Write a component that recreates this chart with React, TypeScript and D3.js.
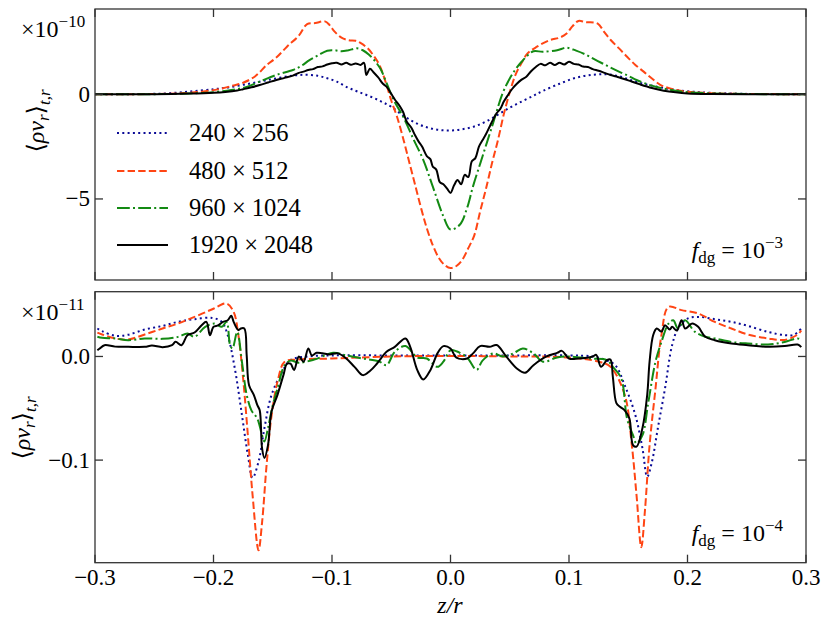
import React, { FC, useMemo } from "react";
import * as d3 from "d3";

// x axis (shared)
const xTicks = [-0.3, -0.2, -0.1, 0, 0.1, 0.2, 0.3];
const xTickLabels = ["−0.3", "−0.2", "−0.1", "0.0", "0.1", "0.2", "0.3"];

const topYTicks = [-5, 0];
const topYTickLabels = ["−5", "0"];
const botYTicks = [-0.1, 0];
const botYTickLabels = ["−0.1", "0.0"];

const seriesNames = ["240 × 256", "480 × 512", "960 × 1024", "1920 × 2048"];
const seriesColors = ["#0a0a96", "#ff4514", "#138a13", "#000000"];
const seriesDash = ["2,3.3", "7.4,3.2", "12.8,3.2,2,3.2", "none"];

// f_dg = 1e-3, values in units of 1e-10
const top240 = [
  [-0.3, 0], [-0.26, 0.01], [-0.24, 0.04], [-0.22, 0.13], [-0.2, 0.24], [-0.189, 0.31],
  [-0.175, 0.45], [-0.161, 0.6], [-0.147, 0.76], [-0.133, 0.89], [-0.122, 0.93],
  [-0.112, 0.88], [-0.104, 0.76], [-0.096, 0.6], [-0.087, 0.33], [-0.078, 0.12],
  [-0.068, -0.1], [-0.058, -0.36], [-0.05, -0.6], [-0.04, -1.02], [-0.03, -1.35],
  [-0.02, -1.58], [-0.01, -1.7], [0, -1.73], [0.01, -1.67], [0.02, -1.54], [0.03, -1.3],
  [0.04, -0.98], [0.05, -0.64], [0.06, -0.35], [0.07, -0.07], [0.078, 0.16], [0.092, 0.5],
  [0.106, 0.79], [0.12, 0.93], [0.132, 0.95], [0.142, 0.86], [0.152, 0.68], [0.163, 0.5],
  [0.177, 0.33], [0.191, 0.2], [0.205, 0.12], [0.219, 0.07], [0.24, 0.03], [0.26, 0.01], [0.3, 0],
];
const top480 = [
  [-0.3, 0], [-0.25, 0.01], [-0.23, 0.04], [-0.21, 0.12], [-0.195, 0.25], [-0.183, 0.42],
  [-0.175, 0.55], [-0.165, 0.85], [-0.155, 1.4], [-0.147, 1.75], [-0.138, 2.27],
  [-0.128, 2.8], [-0.121, 3.35], [-0.114, 3.4], [-0.106, 3.48], [-0.102, 3.3],
  [-0.098, 3.0], [-0.092, 2.7], [-0.086, 2.58], [-0.08, 2.55], [-0.076, 2.45],
  [-0.07, 2.2], [-0.065, 1.85], [-0.06, 1.4], [-0.054, 0.45], [-0.05, -0.3],
  [-0.045, -1.1], [-0.04, -2.1], [-0.035, -3.2], [-0.03, -4.3], [-0.025, -5.4],
  [-0.02, -6.4], [-0.015, -7.2], [-0.01, -7.8], [-0.005, -8.15], [0, -8.3], [0.005, -8.2],
  [0.01, -7.9], [0.015, -7.35], [0.02, -6.75], [0.025, -5.6], [0.03, -4.5], [0.035, -3.3],
  [0.04, -2.2], [0.045, -0.95], [0.05, 0.1], [0.055, 0.95], [0.06, 1.5], [0.065, 1.95],
  [0.073, 2.27], [0.084, 2.59], [0.092, 2.7], [0.098, 2.9], [0.103, 3.25], [0.108, 3.5],
  [0.114, 3.44], [0.124, 3.38], [0.13, 2.95], [0.135, 2.6], [0.142, 2.2], [0.149, 1.79],
  [0.156, 1.4], [0.163, 1.08], [0.17, 0.75], [0.177, 0.45], [0.184, 0.3], [0.191, 0.2],
  [0.2, 0.12], [0.22, 0.05], [0.24, 0.02], [0.3, 0],
];
const top960 = [
  [-0.3, 0], [-0.24, 0.01], [-0.22, 0.04], [-0.2, 0.1], [-0.185, 0.2], [-0.172, 0.35],
  [-0.161, 0.6], [-0.147, 0.92], [-0.133, 1.16], [-0.126, 1.35], [-0.119, 1.63],
  [-0.112, 1.85], [-0.104, 2.08], [-0.098, 2.1], [-0.092, 2.05], [-0.086, 2.1],
  [-0.079, 2.19], [-0.074, 2.1], [-0.069, 1.9], [-0.064, 1.6], [-0.059, 1.2],
  [-0.054, 0.54], [-0.048, -0.27], [-0.04, -1.07], [-0.031, -2.18], [-0.023, -3.13],
  [-0.015, -4.4], [-0.006, -5.83], [0, -6.46], [0.008, -6.22], [0.014, -5.43],
  [0.019, -4.4], [0.027, -2.97], [0.036, -1.37], [0.044, 0.05], [0.05, 0.75],
  [0.055, 1.2], [0.06, 1.55], [0.065, 1.85], [0.07, 2.05], [0.078, 2.03], [0.09, 2.1],
  [0.098, 2.22], [0.106, 2.08], [0.115, 1.87], [0.122, 1.65], [0.129, 1.45],
  [0.136, 1.25], [0.143, 1.06], [0.15, 0.88], [0.157, 0.68], [0.165, 0.5], [0.175, 0.33],
  [0.19, 0.17], [0.2, 0.1], [0.22, 0.04], [0.25, 0.01], [0.3, 0],
];
const top1920 = [
  [-0.3, 0], [-0.25, 0], [-0.22, 0.03], [-0.2, 0.07], [-0.19, 0.11], [-0.18, 0.18],
  [-0.175, 0.24], [-0.168, 0.33], [-0.161, 0.44], [-0.154, 0.56], [-0.147, 0.68],
  [-0.14, 0.78], [-0.133, 0.89], [-0.128, 1.02], [-0.124, 1.08], [-0.12, 1.16],
  [-0.116, 1.2], [-0.112, 1.3], [-0.108, 1.33], [-0.104, 1.42], [-0.1, 1.48],
  [-0.096, 1.5], [-0.092, 1.42], [-0.088, 1.5], [-0.084, 1.41], [-0.08, 1.47],
  [-0.076, 1.4], [-0.073, 1.5], [-0.071, 0.92], [-0.068, 1.22], [-0.065, 1.05],
  [-0.061, 0.8], [-0.057, 0.5], [-0.054, 0.36], [-0.05, 0.02], [-0.047, -0.25],
  [-0.043, -0.55], [-0.04, -0.85], [-0.037, -1.3], [-0.033, -1.6], [-0.03, -1.95],
  [-0.027, -2.25], [-0.024, -2.5], [-0.02, -2.95], [-0.017, -3.1], [-0.015, -3.45],
  [-0.012, -3.6], [-0.009, -4.2], [-0.006, -4.3], [-0.003, -4.5], [0, -4.71],
  [0.003, -4.35], [0.006, -4.1], [0.009, -4.3], [0.012, -3.85], [0.015, -3.95],
  [0.018, -3.2], [0.021, -3.05], [0.024, -2.5], [0.027, -2.2], [0.03, -1.9],
  [0.033, -1.55], [0.036, -1.2], [0.039, -0.9], [0.042, -0.7], [0.045, -0.35],
  [0.048, -0.08], [0.052, 0.25], [0.056, 0.5], [0.06, 0.7], [0.064, 0.84], [0.068, 1.1],
  [0.072, 1.3], [0.076, 1.45], [0.08, 1.38], [0.084, 1.5], [0.088, 1.4], [0.092, 1.5],
  [0.096, 1.42], [0.1, 1.55], [0.104, 1.45], [0.108, 1.42], [0.112, 1.32], [0.116, 1.3],
  [0.12, 1.2], [0.125, 1.12], [0.13, 1.02], [0.135, 0.92], [0.14, 0.85], [0.15, 0.66],
  [0.16, 0.47], [0.17, 0.3], [0.18, 0.17], [0.19, 0.09], [0.2, 0.04], [0.22, 0.01],
  [0.25, 0], [0.3, 0],
];

// f_dg = 1e-4, values in units of 1e-11
const bot240 = [
  [-0.298, 0.027], [-0.294, 0.0244], [-0.283, 0.02], [-0.272, 0.021], [-0.258, 0.026],
  [-0.243, 0.0295], [-0.23, 0.0334], [-0.216, 0.036], [-0.201, 0.0372], [-0.193, 0.0334],
  [-0.188, 0.0205], [-0.182, -0.0116], [-0.176, -0.0566], [-0.171, -0.095],
  [-0.167, -0.117], [-0.162, -0.1016], [-0.157, -0.069], [-0.151, -0.037],
  [-0.142, -0.0148], [-0.135, -0.0035], [-0.12, 0], [-0.1, 0.001], [-0.05, 0.001],
  [0, 0.001], [0.05, 0.001], [0.1, 0.001], [0.12, 0], [0.13, -0.003], [0.139, -0.0084],
  [0.147, -0.0277], [0.156, -0.0566], [0.162, -0.0887], [0.166, -0.116], [0.17, -0.1016],
  [0.175, -0.069], [0.181, -0.031], [0.187, 0.0109], [0.192, 0.027], [0.2, 0.0366],
  [0.209, 0.0382], [0.223, 0.036], [0.237, 0.0334], [0.251, 0.0295], [0.268, 0.0237],
  [0.282, 0.0206], [0.29, 0.021], [0.296, 0.027],
];
const bot480 = [
  [-0.298, 0.023], [-0.294, 0.0212], [-0.283, 0.0174], [-0.272, 0.0164], [-0.258, 0.0212],
  [-0.243, 0.027], [-0.23, 0.0318], [-0.216, 0.0382], [-0.201, 0.0456], [-0.189, 0.0511],
  [-0.183, 0.043], [-0.179, 0.0205], [-0.175, -0.0212], [-0.171, -0.076],
  [-0.167, -0.134], [-0.162, -0.187], [-0.159, -0.16], [-0.155, -0.102],
  [-0.151, -0.057], [-0.146, -0.0245], [-0.14, -0.0052], [-0.13, -0.003],
  [-0.1, -0.002], [-0.05, 0], [0, 0.0005], [0.05, 0], [0.1, -0.001], [0.125, -0.005],
  [0.135, -0.01], [0.147, -0.037], [0.153, -0.0855], [0.157, -0.134], [0.161, -0.184],
  [0.164, -0.15], [0.168, -0.0855], [0.173, -0.031], [0.178, 0.0205], [0.184, 0.0478],
  [0.195, 0.0447], [0.209, 0.0415], [0.223, 0.0334], [0.237, 0.027], [0.251, 0.0212],
  [0.268, 0.0174], [0.282, 0.016], [0.293, 0.0212], [0.296, 0.025],
];
const bot960 = [
  [-0.298, 0.019], [-0.294, 0.018], [-0.283, 0.0174], [-0.272, 0.0157], [-0.258, 0.0174],
  [-0.243, 0.017], [-0.23, 0.0189], [-0.222, 0.0222], [-0.216, 0.019], [-0.207, 0.0286],
  [-0.199, 0.0318], [-0.193, 0.0286], [-0.189, 0.0334], [-0.186, 0.011], [-0.184, 0.0077],
  [-0.18, 0.0237], [-0.176, -0.0052], [-0.172, -0.037], [-0.168, -0.052], [-0.163, -0.06],
  [-0.159, -0.076], [-0.157, -0.082], [-0.154, -0.069], [-0.15, -0.047], [-0.146, -0.031],
  [-0.14, -0.0084], [-0.135, -0.004], [-0.128, -0.006], [-0.115, -0.003], [-0.099, 0.0035],
  [-0.088, 0.001], [-0.074, -0.002], [-0.06, -0.005], [-0.054, -0.0084], [-0.047, 0.0045],
  [-0.038, 0.01], [-0.028, -0.001], [-0.02, -0.002], [-0.011, -0.01], [-0.006, -0.005],
  [0, 0.006], [0.005, 0.005], [0.014, -0.001], [0.022, -0.013], [0.027, -0.004],
  [0.036, 0.003], [0.044, 0], [0.053, 0.003], [0.061, 0.0077], [0.07, 0.003],
  [0.078, -0.005], [0.09, -0.001], [0.1, 0], [0.118, -0.002], [0.132, -0.0035],
  [0.137, -0.01], [0.144, -0.021], [0.149, -0.06], [0.154, -0.076], [0.157, -0.084],
  [0.162, -0.076], [0.167, -0.0437], [0.173, -0.005], [0.178, 0.014], [0.184, 0.0318],
  [0.188, 0.035], [0.192, 0.027], [0.198, 0.035], [0.206, 0.024], [0.215, 0.019],
  [0.223, 0.0174], [0.237, 0.014], [0.251, 0.0125], [0.268, 0.0115], [0.282, 0.014],
  [0.293, 0.0174], [0.296, 0.016],
];
const bot1920 = [
  [-0.298, 0.006], [-0.296, 0.0077], [-0.292, 0.0109], [-0.283, 0.0095], [-0.272, 0.0093],
  [-0.258, 0.0093], [-0.252, 0.0105], [-0.243, 0.009], [-0.235, 0.0109], [-0.232, 0.0141],
  [-0.227, 0.0109], [-0.222, 0.0205], [-0.216, 0.0231], [-0.21, 0.0302], [-0.206, 0.0334],
  [-0.203, 0.0205], [-0.2, 0.0286], [-0.196, 0.03], [-0.192, 0.0334], [-0.188, 0.035],
  [-0.185, 0.0392], [-0.183, 0.0334], [-0.179, 0.0254], [-0.177, 0.027], [-0.174, 0.027],
  [-0.172, 0.0013], [-0.17, -0.0277], [-0.166, -0.037], [-0.163, -0.047], [-0.161, -0.052],
  [-0.159, -0.0887], [-0.157, -0.098], [-0.154, -0.0855], [-0.151, -0.053],
  [-0.146, -0.037], [-0.141, -0.018], [-0.138, -0.007], [-0.135, -0.007], [-0.132, -0.013],
  [-0.128, 0], [-0.124, -0.005], [-0.12, 0.0077], [-0.117, 0.001], [-0.113, 0.0035],
  [-0.108, 0.003], [-0.102, 0.002], [-0.095, 0.003], [-0.088, -0.002], [-0.081, -0.01],
  [-0.074, -0.018], [-0.068, -0.014], [-0.062, -0.0068], [-0.054, 0.0045], [-0.047, 0.0093],
  [-0.038, 0.0174], [-0.034, 0.0093], [-0.028, -0.0132], [-0.023, -0.0222],
  [-0.017, -0.0132], [-0.011, 0.003], [-0.006, 0.01], [0, 0.0077], [0.005, -0.0012],
  [0.014, -0.002], [0.019, 0.003], [0.025, 0.01], [0.033, 0.0093], [0.039, 0.011],
  [0.047, 0], [0.056, -0.0116], [0.063, -0.0157], [0.07, -0.0084], [0.081, 0],
  [0.09, 0.0035], [0.094, 0.0054], [0.1, -0.002], [0.108, -0.002], [0.12, 0],
  [0.123, 0.0015], [0.127, -0.01], [0.132, -0.0035], [0.135, -0.003], [0.137, -0.0196],
  [0.14, -0.045], [0.143, -0.0486], [0.147, -0.052], [0.151, -0.06], [0.154, -0.0855],
  [0.157, -0.087], [0.162, -0.069], [0.166, -0.037], [0.168, -0.005], [0.171, 0.0205],
  [0.174, 0.027], [0.178, 0.024], [0.181, 0.0302], [0.185, 0.026], [0.187, 0.0286],
  [0.191, 0.025], [0.195, 0.035], [0.198, 0.027], [0.204, 0.0318], [0.209, 0.0286],
  [0.215, 0.019], [0.223, 0.0157], [0.237, 0.0125], [0.251, 0.0109], [0.268, 0.0093],
  [0.282, 0.01], [0.293, 0.0115], [0.296, 0.009],
];

const FONT = "Liberation Serif, DejaVu Serif, serif";
const FRAME = "#333";
const LEFT = 95;
const RIGHT = 806;

const x = d3.scaleLinear([-0.3, 0.3], [LEFT, RIGHT]);

const Panel: FC<any> = (props: any) => {
  const {
    id, top, bottom, yDomain, yTicks, yTickLabels, series, expo, fdgExp,
    showXLabels, yLabelX, yLabelY, legend,
  } = props;

  const y = useMemo(() => d3.scaleLinear(yDomain, [bottom, top]), [yDomain, top, bottom]);
  const line = useMemo(
    () =>
      d3
        .line()
        .curve(d3.curveCatmullRom.alpha(0.5))
        .x((d: any) => x(d[0]))
        .y((d: any) => y(d[1])),
    [y]
  );

  return (
    <g>
      <defs>
        <clipPath id={id}>
          <rect x={LEFT} y={top} width={RIGHT - LEFT} height={bottom - top} />
        </clipPath>
      </defs>
      <g clipPath={`url(#${id})`}>
        {series.map((s: any, i: number) => (
          <path
            key={i}
            d={line(s) || ""}
            fill="none"
            stroke={seriesColors[i]}
            strokeWidth={2}
            strokeDasharray={seriesDash[i]}
            strokeLinejoin="round"
          />
        ))}
      </g>
      <rect x={LEFT} y={top} width={RIGHT - LEFT} height={bottom - top} fill="none" stroke={FRAME} strokeWidth={1.3} />
      {xTicks.map((t, i) => (
        <g key={i}>
          <line x1={x(t)} x2={x(t)} y1={bottom} y2={bottom - 8} stroke={FRAME} strokeWidth={1.3} />
          <line x1={x(t)} x2={x(t)} y1={top} y2={top + 8} stroke={FRAME} strokeWidth={1.3} />
          {showXLabels && (
            <text x={x(t)} y={bottom + 22} textAnchor="middle" fontSize={23}>
              {xTickLabels[i]}
            </text>
          )}
        </g>
      ))}
      {yTicks.map((t: number, i: number) => (
        <g key={i}>
          <line x1={LEFT} x2={LEFT + 8} y1={y(t)} y2={y(t)} stroke={FRAME} strokeWidth={1.3} />
          <line x1={RIGHT} x2={RIGHT - 8} y1={y(t)} y2={y(t)} stroke={FRAME} strokeWidth={1.3} />
          <text x={LEFT - 5} y={y(t) + 7.5} textAnchor="end" fontSize={23}>
            {yTickLabels[i]}
          </text>
        </g>
      ))}
      <text x={21} y={top + 28} fontSize={24}>
        ×10<tspan dy={-10} fontSize={17}>{expo}</tspan>
      </text>
      <text
        transform={`translate(${yLabelX},${yLabelY}) rotate(-90)`}
        textAnchor="middle"
        fontSize={24}
      >
        ⟨<tspan fontStyle="italic">ρv</tspan>
        <tspan dy={5} fontSize={17} fontStyle="italic">r</tspan>
        <tspan dy={-5}>⟩</tspan>
        <tspan dy={6} fontSize={17} fontStyle="italic">t,r</tspan>
      </text>
      <text x={783} y={bottom - 22} textAnchor="end" fontSize={24}>
        <tspan fontStyle="italic">f</tspan>
        <tspan dy={5} fontSize={17}>dg</tspan>
        <tspan dy={-5}> = 10</tspan>
        <tspan dy={-10} fontSize={17}>{fdgExp}</tspan>
      </text>
      {legend &&
        seriesNames.map((name, i) => {
          const ly = [133, 171, 208, 245][i];
          return (
            <g key={i}>
              <line x1={117} x2={168} y1={ly} y2={ly} stroke={seriesColors[i]} strokeWidth={2} strokeDasharray={seriesDash[i]} />
              <text x={189} y={ly + 8} fontSize={24.5}>
                {name}
              </text>
            </g>
          );
        })}
    </g>
  );
};

export default function App() {
  return (
    <svg
      width={830}
      height={630}
      style={{ position: "absolute", top: 0, left: 0, background: "#fff", fontFamily: FONT }}
      fill="#000"
    >
      <Panel
        id="clipTop"
        top={9}
        bottom={280}
        yDomain={[-8.87, 4.07]}
        yTicks={topYTicks}
        yTickLabels={topYTickLabels}
        series={[top240, top480, top960, top1920]}
        expo="−10"
        fdgExp="−3"
        showXLabels={false}
        yLabelX={44}
        yLabelY={121}
        legend
      />
      <Panel
        id="clipBot"
        top={291.7}
        bottom={562.7}
        yDomain={[-0.199, 0.0625]}
        yTicks={botYTicks}
        yTickLabels={botYTickLabels}
        series={[bot240, bot480, bot960, bot1920]}
        expo="−11"
        fdgExp="−4"
        showXLabels
        yLabelX={30}
        yLabelY={428}
        legend={false}
      />
      <text x={450} y={613} textAnchor="middle" fontSize={24} fontStyle="italic">
        z/r
      </text>
    </svg>
  );
}
